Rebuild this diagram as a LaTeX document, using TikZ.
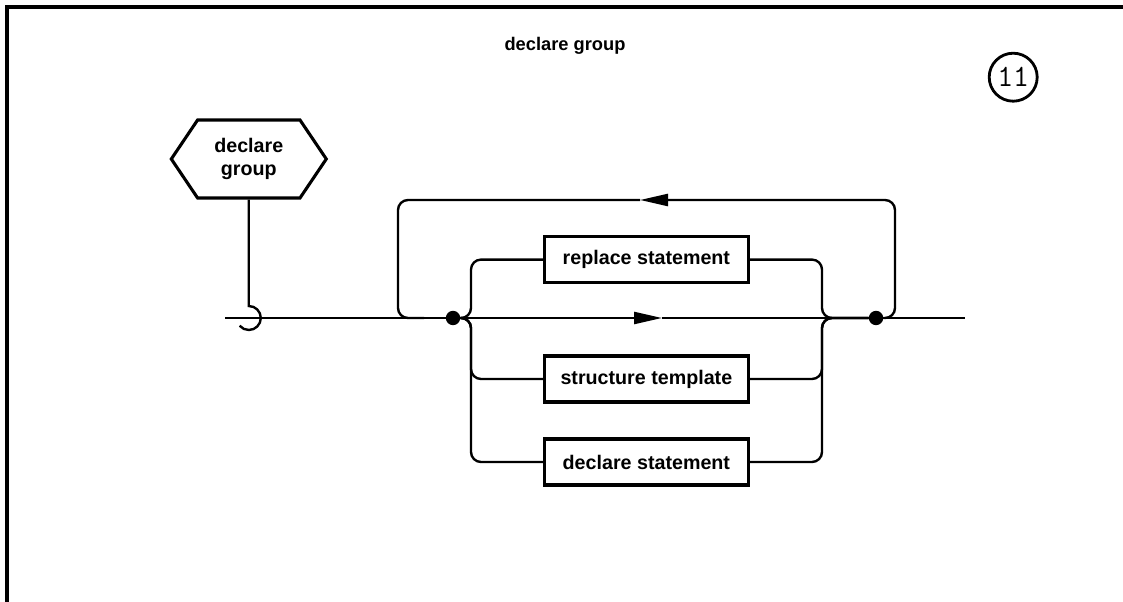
\documentclass[tikz,border=0pt]{standalone}
\usepackage{fontspec}
\setmainfont{Liberation Sans}
\usetikzlibrary{arrows.meta,shapes.symbols}
\begin{document}
\begin{tikzpicture}[scale=1,
    box/.style={draw, line width=2.2pt, minimum width=5.1cm, minimum height=1.15cm, font=\fontsize{14}{16}\selectfont\bfseries},
    wire/.style={line width=1.7pt, rounded corners=0.25cm},
    dot/.style={circle, fill=black, inner sep=0pt, minimum size=0.36cm},
    flowtip/.style={-{Triangle[length=0.7cm,width=0.3cm]}}]
    \useasboundingbox (0,0) rectangle (28.075,-15.05);
    \draw[line width=2.2pt] (0.175,-15.05) -- (0.175,-0.175) -- (28.075,-0.175);
    \node[font=\fontsize{13}{15}\selectfont\bfseries] (title) at (14.125,-1.15) {declare group};
    \node[draw, circle, line width=2pt, minimum size=1.2cm, inner sep=0pt, font=\fontsize{22}{22}\selectfont\ttfamily] (num) at (25.33,-1.93) {11};

    % entry
    \node[draw, signal, signal to=west and east, signal pointer angle=112, minimum width=3.875cm, minimum height=1.95cm, line width=2.2pt, align=center, font=\fontsize{14}{16}\selectfont\bfseries] (entry) at (6.22,-3.975) {declare\\group};
    \coordinate (hook) at (6.22,-7.65);
    \draw[line width=1.7pt] (entry.south) -- (hook) arc[start angle=90, end angle=-140, radius=0.3];

    % main line
    \coordinate (start) at (5.625,-7.95);
    \coordinate (finish) at (24.125,-7.95);
    \node[dot] (ldot) at (11.325,-7.95) {};
    \node[dot] (rdot) at (21.9,-7.95) {};
    \coordinate (mtip) at (16.55,-7.95);
    \draw[line width=1.7pt] (start) -- (ldot);
    \draw[line width=1.7pt, flowtip] (ldot) -- (mtip);
    \draw[line width=1.7pt] (mtip) -- (rdot) -- (finish);

    % loop back
    \coordinate (looptr) at (22.375,-5);
    \coordinate (ttip) at (16.0,-5);
    \coordinate (looptl) at (9.95,-5);
    \coordinate (ljoin) at (10.6,-7.95);
    \draw[wire, flowtip] (rdot) -| (looptr) -- (ttip);
    \draw[wire] (ttip) -- (looptl) |- (ljoin);

    % alternatives
    \node[box] (replace) at (16.16,-6.49) {replace statement};
    \node[box] (structure) at (16.16,-9.475) {structure template};
    \node[box] (declare) at (16.16,-11.55) {declare statement};
    \coordinate (lfork) at (11.775,-7.95);
    \coordinate (rfork) at (20.55,-7.95);
    \foreach \b in {replace,structure,declare}{
    \draw[wire] (ldot) -- (lfork) |- (\b.west);
    \draw[wire] (\b.east) -| (rfork) -- (rdot);
    }
\end{tikzpicture}
\end{document}
